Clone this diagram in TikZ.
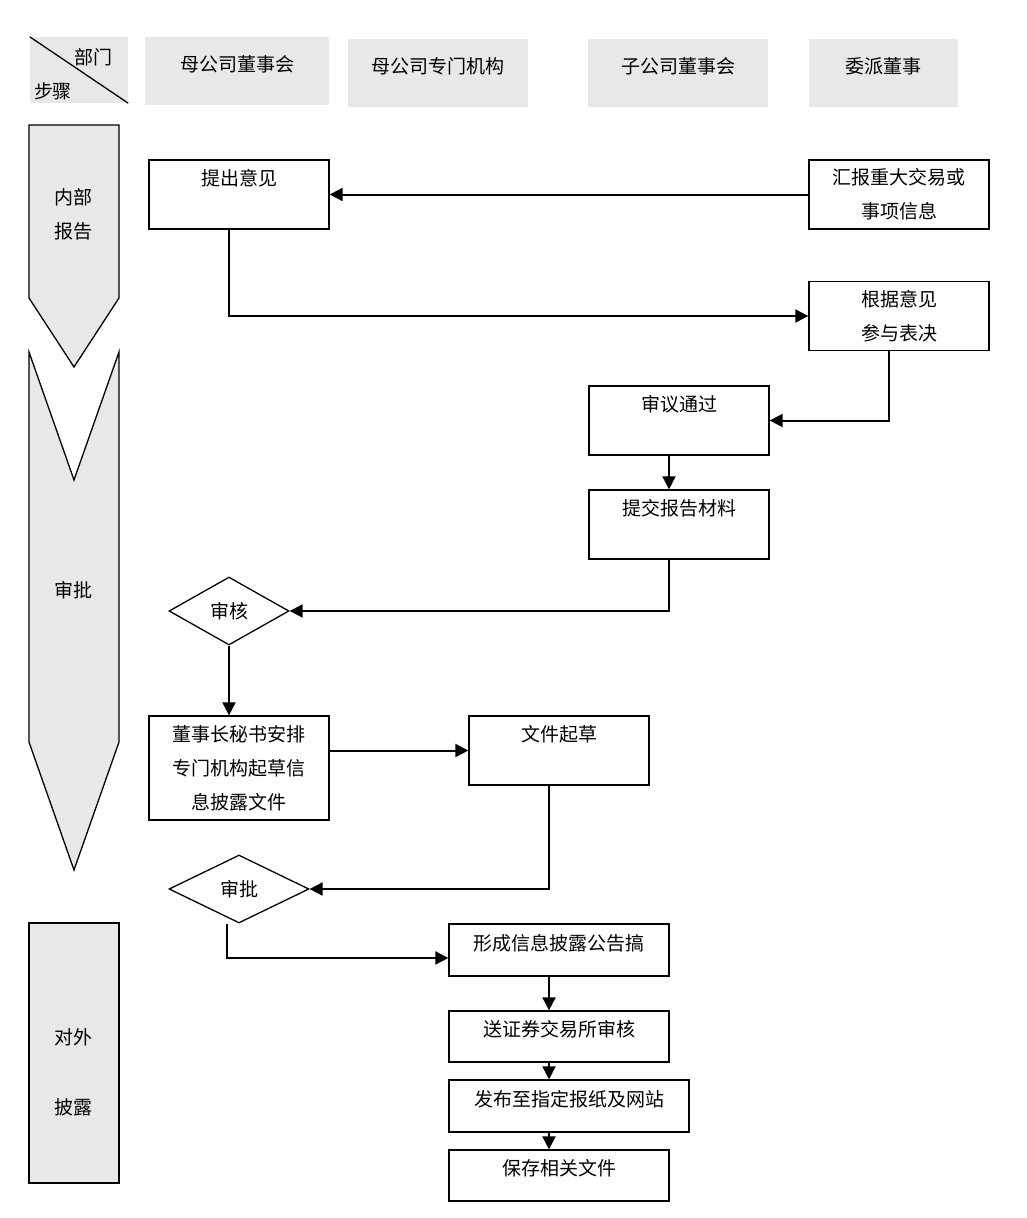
\documentclass[tikz,border=0pt]{standalone}
\usepackage{fontspec}
\newfontfamily\cjk{Noto Sans CJK SC}
\usetikzlibrary{arrows.meta,shapes.geometric}
\definecolor{headgray}{HTML}{E8E8E8}

\begin{document}
\begin{tikzpicture}[x=1pt, y=-1pt,
		font=\cjk\fontsize{19}{34}\selectfont,
		head/.style={fill=headgray, minimum width=180, minimum height=68, inner sep=0, text height=14pt, text depth=14pt},
		stepbox/.style={draw, line width=1.3pt, minimum width=180, minimum height=69, align=center, inner sep=0},
		lift/.style={text height=14pt, text depth=14pt},
		check/.style={draw, diamond, line width=1.3pt, minimum width=120, minimum height=68, inner sep=0},
		arrow/.style={draw, line width=1.3pt, fill=headgray},
		arr/.style={line width=2pt, -{Triangle[length=13pt,width=13pt]}}]
		\useasboundingbox (0,0) rectangle (1026,1218);

		\node[head, minimum width=98, minimum height=66] (corner) at (79,70) {};
		\draw[line width=1.3pt] (corner.north west) -- (corner.south east);
		\node (bumen) at (93,57) {部门};
		\node (buzhou) at (53,91) {步骤};
		\node[head, minimum width=184] (mugs) at (237,71) {母公司董事会};
		\node[head] (mujg) at (438,73) {母公司专门机构};
		\node[head] (zigs) at (678,73) {子公司董事会};
		\node[head, minimum width=149] (weipai) at (883.5,73) {委派董事};

		\draw[arrow] (29,125) -- (119,125) -- (119,298) -- (74,367) -- (29,298) -- cycle;
		\draw[arrow] (29,352) -- (74,480) -- (119,352) -- (119,742) -- (74,870) -- (29,742) -- cycle;
		\draw[arrow] (29,923) rectangle (119,1183);
		\node[align=center] (neibu) at (73,214) {内部\\报告};
		\node (shenpitxt) at (73,590) {审批};
		\node (duiwai) at (73,1037) {对外};
		\node (pilu) at (73,1107) {披露};

		\node[stepbox] (tichu) at (239,194.5) {提出意见\\~};
		\node[stepbox] (huibao) at (899,194.5) {汇报重大交易或\\事项信息};
		\node[stepbox] (genju) at (899,316) {根据意见\\参与表决};
		\node[stepbox] (shenyi) at (679,420.5) {审议通过\\~};
		\node[stepbox] (tijiao) at (679,524.5) {提交报告材料\\~};
		\node[check] (shenhe) at (229,611) {审核};
		\node[stepbox, minimum height=104] (dongshi) at (239,768) {董事长秘书安排\\专门机构起草信\\息披露文件};
		\node[stepbox] (qicao) at (559,750.5) {文件起草\\~};
		\node[check, minimum width=140] (shenpi) at (239,889) {审批};
		\node[stepbox, lift, minimum width=220, minimum height=52] (xingcheng) at (559,950) {形成信息披露公告搞};
		\node[stepbox, lift, minimum width=220, minimum height=51] (songzheng) at (559,1036.5) {送证券交易所审核};
		\node[stepbox, lift, minimum width=240, minimum height=52] (fabu) at (569,1106) {发布至指定报纸及网站};
		\node[stepbox, lift, minimum width=220, minimum height=51] (baocun) at (559,1175.5) {保存相关文件};

		\draw[arr] (huibao) -- (tichu);
		\draw[arr] ([xshift=-10pt]tichu.south) |- (genju.west);
		\draw[arr] ([xshift=-10pt]genju.south) |- (shenyi.east);
		\draw[arr] ([xshift=-10pt]shenyi.south) -- ([xshift=-10pt]tijiao.north);
		\draw[arr] ([xshift=-10pt]tijiao.south) |- (shenhe.east);
		\draw[arr] (shenhe.south) -- ([xshift=-10pt]dongshi.north);
		\draw[arr] (dongshi.east |- qicao) -- (qicao.west);
		\draw[arr] ([xshift=-10pt]qicao.south) |- (shenpi.east);
		\draw[arr] ([xshift=-12pt]shenpi.south) |- ([yshift=-8pt]xingcheng.west);
		\draw[arr] ([xshift=-10pt]xingcheng.south) -- ([xshift=-10pt]songzheng.north);
		\draw[arr] ([xshift=-10pt]songzheng.south) -- ([xshift=-20pt]fabu.north);
		\draw[arr] ([xshift=-20pt]fabu.south) -- ([xshift=-10pt]baocun.north);
	\end{tikzpicture}
\end{document}
